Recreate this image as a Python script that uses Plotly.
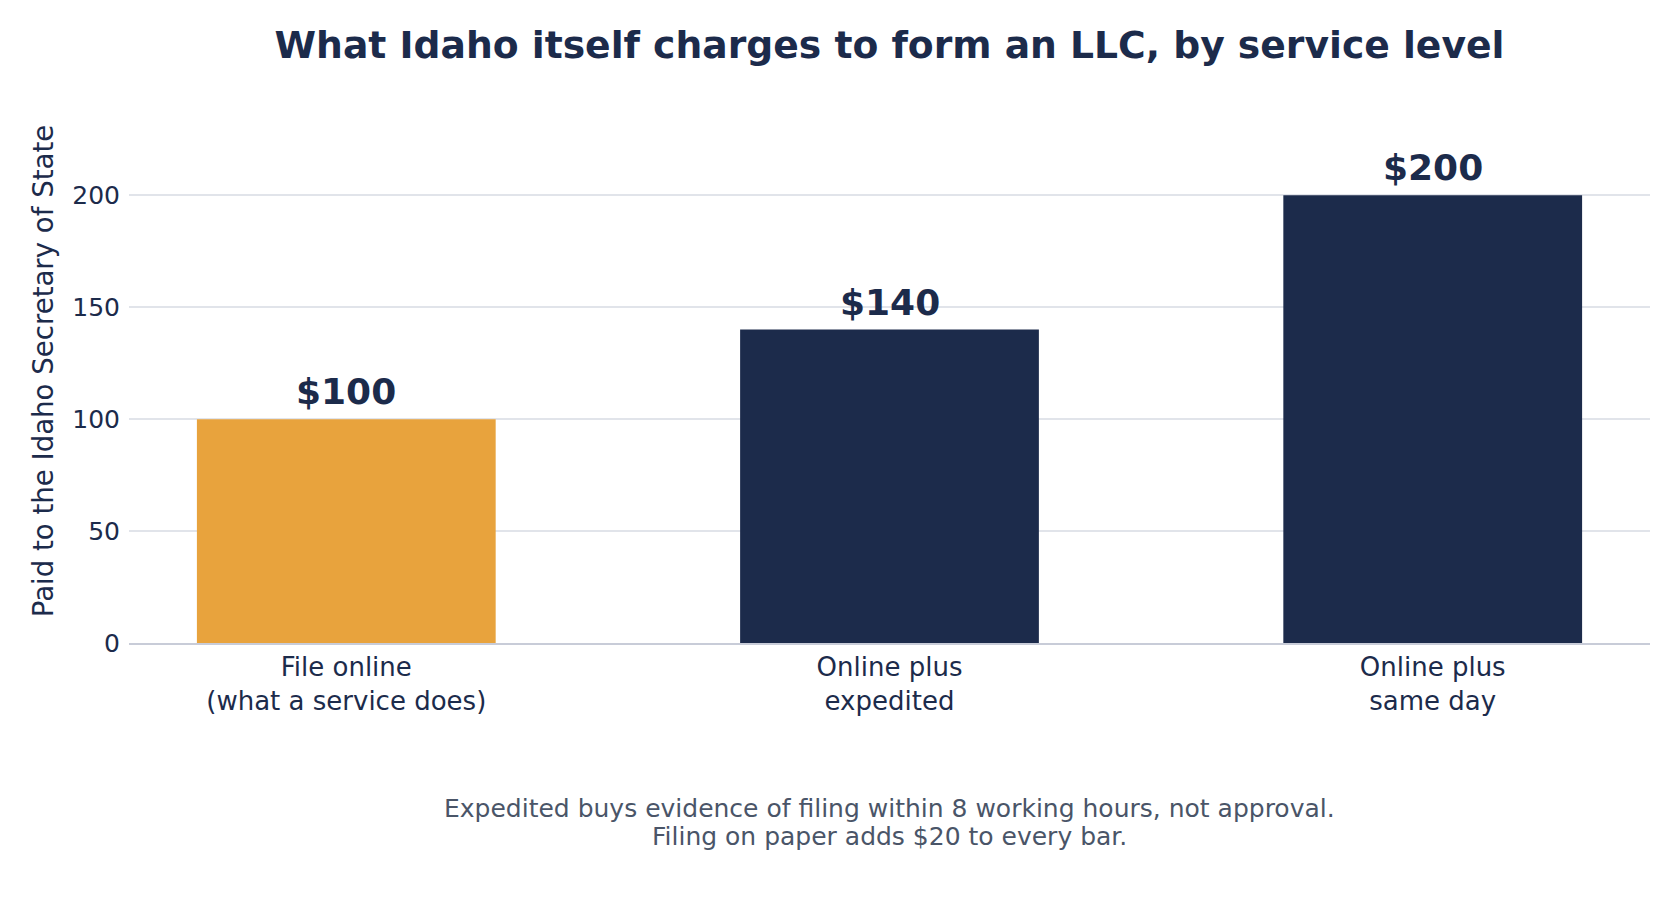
import plotly.graph_objects as go

categories = ["File online<br>(what a service does)", "Online plus<br>expedited", "Online plus<br>same day"]
fees = [100, 140, 200]
bar_labels = ["$100", "$140", "$200"]
bar_colors = ["#e8a33d", "#1c2b4b", "#1c2b4b"]
y_ticks = [0, 50, 100, 150, 200]
note_lines = [
    "Expedited buys evidence of filing within 8 working hours, not approval.",
    "Filing on paper adds $20 to every bar.",
]

navy = "#1c2b4b"
font_family = "DejaVu Sans"
W, H = 1680, 919
M_L, M_R, M_T, M_B = 121, 38, 91, 284
plot_h = H - M_T - M_B
x_pos = list(range(len(fees)))

fig = go.Figure(
    go.Bar(
        x=x_pos,
        y=fees,
        width=0.55,
        marker=dict(color=bar_colors, line=dict(width=0)),
        hoverinfo="skip",
    )
)

# value labels above bars, anchored to the data coordinates of each bar
for xi, v, lab in zip(x_pos, fees, bar_labels):
    fig.add_annotation(
        x=xi,
        y=v,
        xref="x",
        yref="y",
        text=f"<b>{lab}</b>",
        showarrow=False,
        xanchor="center",
        yanchor="bottom",
        yshift=5,
        font=dict(family=font_family, size=36, color=navy),
    )

fig.update_layout(
    width=W,
    height=H,
    paper_bgcolor="white",
    plot_bgcolor="white",
    margin=dict(l=M_L, r=M_R, t=M_T, b=M_B, autoexpand=False),
    showlegend=False,
    title=dict(
        text="<b>What Idaho itself charges to form an LLC, by service level</b>",
        xref="paper",
        x=0.5,
        xanchor="center",
        y=1 - 37 / H,
        yanchor="middle",
        font=dict(family=font_family, size=37.7, color=navy),
    ),
    font=dict(family=font_family, color=navy),
)

fig.update_xaxes(
    tickmode="array",
    tickvals=x_pos,
    ticktext=categories,
    range=[-0.4, 2.4],
    showgrid=False,
    showline=True,
    linecolor="#c8ccd8",
    linewidth=2,
    ticks="",
    tickfont=dict(family=font_family, size=26, color=navy),
    automargin=False,
    fixedrange=True,
)

fig.update_yaxes(
    range=[0, 243],
    tickmode="array",
    tickvals=y_ticks,
    showgrid=True,
    gridcolor="#e1e4ea",
    gridwidth=2,
    zeroline=False,
    showline=False,
    ticks="",
    ticklabelstandoff=8,
    tickfont=dict(family=font_family, size=25, color=navy),
    title=dict(text="Paid to the Idaho Secretary of State", font=dict(family=font_family, size=27.6, color=navy), standoff=10),
    automargin=False,
    fixedrange=True,
)

note_y_px = [800, 828]
for line, ypx in zip(note_lines, note_y_px):
    fig.add_annotation(
        text=line,
        xref="paper",
        yref="paper",
        x=0.5,
        y=-(ypx - (H - M_B)) / plot_h,
        xanchor="center",
        yanchor="middle",
        showarrow=False,
        align="center",
        font=dict(family=font_family, size=25, color="#4a5568"),
    )

fig.write_html("out.html")
